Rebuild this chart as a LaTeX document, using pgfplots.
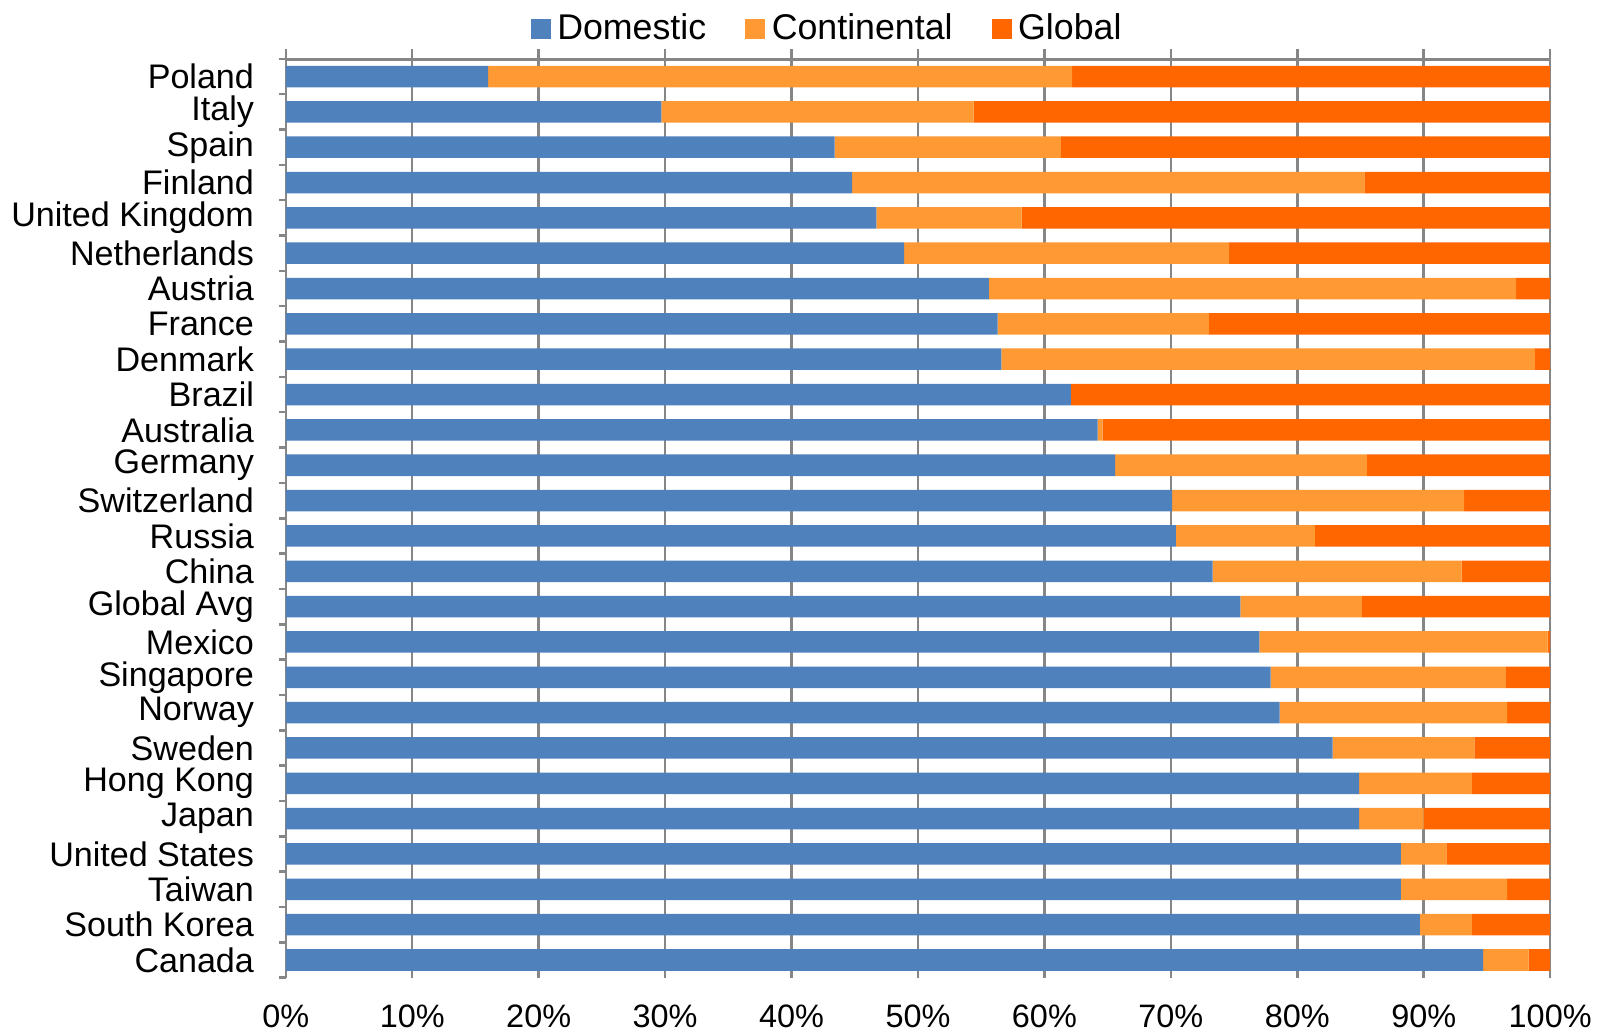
\documentclass[border=0pt]{standalone}
\usepackage{pgfplots}
\usepackage{pgfplotstable}
\usepackage{fontspec}
\setmainfont{Liberation Sans}
\pgfplotsset{compat=1.18}

\definecolor{domblue}{RGB}{79,129,189}
\definecolor{contorange}{RGB}{255,153,51}
\definecolor{globorange}{RGB}{255,102,0}
\definecolor{gridgray}{RGB}{134,134,134}

% share of each market (percent): domestic, continental, global
% y = row position, Poland at the top
\pgfplotstableread{
y  dom   cont  glob
25 16.0  46.2  37.8
24 29.7  24.7  45.6
23 43.4  17.9  38.7
22 44.8  40.5  14.7
21 46.7  11.5  41.8
20 48.9  25.7  25.4
19 55.6  41.7   2.7
18 56.3  16.7  27.0
17 56.6  42.2   1.2
16 62.1   0.0  37.9
15 64.2   0.4  35.4
14 65.6  19.9  14.5
13 70.1  23.1   6.8
12 70.4  11.0  18.6
11 73.3  19.7   7.0
10 75.5   9.6  14.9
9  77.0  22.8   0.2
8  77.9  18.6   3.5
7  78.6  18.0   3.4
6  82.8  11.2   6.0
5  84.9   8.9   6.2
4  84.9   5.1  10.0
3  88.2   3.6   8.2
2  88.2   8.4   3.4
1  89.7   4.1   6.2
0  94.7   3.6   1.7
}\shares

\begin{document}
\fontsize{10.3}{12}\selectfont
\begin{tikzpicture}
\begin{axis}[
  scale only axis,
  width=382pt, height=277.6pt,
  xbar stacked, bar width=6.5pt,
  xmin=0, xmax=100, ymin=-0.5, ymax=25.5,
  xtick={0,10,...,100},
  xticklabels={0\%,10\%,20\%,30\%,40\%,50\%,60\%,70\%,80\%,90\%,100\%},
  ytick={0,...,25},
  yticklabels={Canada,South Korea,Taiwan,United States,Japan,Hong Kong,Sweden,Norway,Singapore,Mexico,Global Avg,China,Russia,Switzerland,Germany,Australia,Brazil,Denmark,France,Austria,Netherlands,United Kingdom,Finland,Spain,Italy,Poland},
  minor ytick={-0.5,0.5,...,25.5},
  xtick pos=right, xticklabel pos=left,
  ytick pos=left,
  tick align=outside,
  major tick length=3pt, minor tick length=2pt,
  tick style={gridgray, line width=0.75pt},
  major y tick style={draw=none},
  xmajorgrids,
  grid style={gridgray, line width=0.75pt},
  axis line style={draw=none},
  xticklabel style={font=\fontsize{9.8}{12}\selectfont, inner ysep=1pt, yshift=-4pt},
  yticklabel style={xshift=-3pt},
  legend columns=-1,
  legend style={draw=none, fill=none, at={(0.430,1)}, anchor=center, yshift=9.1pt,
    font=\fontsize{10.8}{12}\selectfont,
    /tikz/every even column/.append style={column sep=9.8pt}},
]
\addplot[fill=domblue, draw=none,
  legend image code/.code={\fill[domblue] (0pt,-3pt) rectangle (6pt,3pt);}]
  table[x=dom, y=y] {\shares};
\addplot[fill=contorange, draw=none,
  legend image code/.code={\fill[contorange] (0pt,-3pt) rectangle (6pt,3pt);}]
  table[x=cont, y=y] {\shares};
\addplot[fill=globorange, draw=none,
  legend image code/.code={\fill[globorange] (0pt,-3pt) rectangle (6pt,3pt);}]
  table[x=glob, y=y] {\shares};
\legend{Domestic,Continental,Global}
\draw[gridgray, line width=1pt] (rel axis cs:0,1) -- (rel axis cs:1,1);
\draw[gridgray, line width=0.75pt] (rel axis cs:0,0) -- (rel axis cs:0,1);
\end{axis}
\end{tikzpicture}
\end{document}
